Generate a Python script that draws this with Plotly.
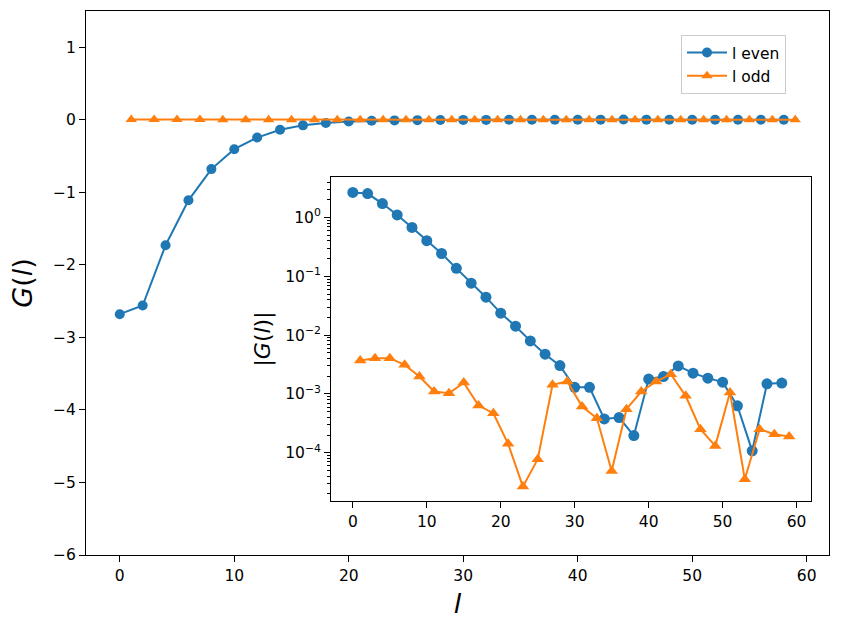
import plotly.graph_objects as go

l_even = list(range(0, 60, 2))
l_odd = list(range(1, 60, 2))

G_even = [-2.68, -2.56, -1.73, -1.11, -0.68, -0.405, -0.245, -0.137, -0.0765, -0.0443,
          -0.0237, -0.0142, -0.0080, -0.00475, -0.00304, -0.0013, -0.0013, -0.000377,
          -0.000397, -0.000196, 0.00179, 0.00198, 0.0030, 0.00226, 0.00186, 0.00159,
          0.000628, -0.000108, 0.00149, 0.00153]
G_odd = [0.0037, 0.00406, 0.00406, 0.00313, 0.00198, 0.0011, 0.00103, 0.00156, 0.000635,
         0.000471, 0.000142, 0.0000266, 0.0000778, 0.00143, 0.00163, 0.00061, 0.000387,
         0.0000492, 0.000551, 0.0011, 0.00163, 0.00217, 0.000929, 0.000252, 0.000131,
         0.00106, 0.0000356, 0.000252, 0.000207, 0.000189]

abs_even = [abs(v) for v in G_even]
abs_odd = [abs(v) for v in G_odd]

x_ticks = [0, 10, 20, 30, 40, 50, 60]
y_ticks = [-6, -5, -4, -3, -2, -1, 0, 1]
log_ticks = [1, 0.1, 0.01, 0.001, 0.0001]
log_tick_text = ["10<sup>0</sup>", "10<sup>\u22121</sup>", "10<sup>\u22122</sup>",
                 "10<sup>\u22123</sup>", "10<sup>\u22124</sup>"]

BLUE = "#1f77b4"
ORANGE = "#ff7f0e"
FONT = "DejaVu Sans"

fig = go.Figure()
fig.add_trace(go.Scatter(x=l_even, y=G_even, mode="lines+markers", name="l even",
                         line=dict(color=BLUE, width=2),
                         marker=dict(symbol="circle", size=10, color=BLUE),
                         xaxis="x", yaxis="y"))
fig.add_trace(go.Scatter(x=l_odd, y=G_odd, mode="lines+markers", name="l odd",
                         line=dict(color=ORANGE, width=2),
                         marker=dict(symbol="triangle-up", size=10, color=ORANGE),
                         xaxis="x", yaxis="y"))
fig.add_trace(go.Scatter(x=l_even, y=abs_even, mode="lines+markers", showlegend=False,
                         line=dict(color=BLUE, width=2),
                         marker=dict(symbol="circle", size=11, color=BLUE),
                         xaxis="x2", yaxis="y2"))
fig.add_trace(go.Scatter(x=l_odd, y=abs_odd, mode="lines+markers", showlegend=False,
                         line=dict(color=ORANGE, width=2),
                         marker=dict(symbol="triangle-up", size=11, color=ORANGE),
                         xaxis="x2", yaxis="y2"))

axis_common = dict(showline=True, mirror=True, linecolor="black", linewidth=1,
                   ticks="outside", ticklen=6, tickwidth=1, tickcolor="black",
                   showgrid=False, zeroline=False, automargin=False,
                   tickfont=dict(family=FONT, size=15.5, color="black"))

fig.update_layout(
    width=841, height=632,
    margin=dict(l=0, r=0, t=0, b=0),
    paper_bgcolor="white", plot_bgcolor="white",
    font=dict(family=FONT, color="black"),
    xaxis=dict(domain=[86/841, 829/841], range=[-2.95, 61.95], tickvals=x_ticks,
               title=dict(text="<i>l</i>", font=dict(size=27, family=FONT), standoff=10),
               anchor="y", **axis_common),
    yaxis=dict(domain=[1-555/632, 1-11/632], range=[-6, 1.5], tickvals=y_ticks,
               ticktext=[str(v).replace("-", "\u2212") for v in y_ticks],
               title=dict(text="<i>G</i>(<i>l</i>)", font=dict(size=27, family=FONT), standoff=12),
               anchor="x", **axis_common),
    xaxis2=dict(domain=[331/841, 811/841], range=[-2.95, 61.95], tickvals=x_ticks,
                anchor="y2", **axis_common),
    yaxis2=dict(domain=[1-501/632, 1-177/632], type="log", range=[-4.82, 0.69],
                tickvals=log_ticks, ticktext=log_tick_text,
                minor=dict(ticks="outside", ticklen=3, tickcolor="black", dtick="D1",
                           showgrid=False),
                title=dict(text="|<i>G</i>(<i>l</i>)|", font=dict(size=22, family=FONT), standoff=8),
                anchor="x2", **axis_common),
    legend=dict(x=681/841, y=1-35/632, xanchor="left", yanchor="top",
                bgcolor="white", bordercolor="#cccccc", borderwidth=1,
                font=dict(family=FONT, size=15.5, color="black"),
                itemwidth=40, tracegroupgap=2),
    showlegend=True,
)

fig.write_html("out.html", config={"displayModeBar": False},
               post_script="document.body.style.margin='0';document.body.style.padding='0';")
